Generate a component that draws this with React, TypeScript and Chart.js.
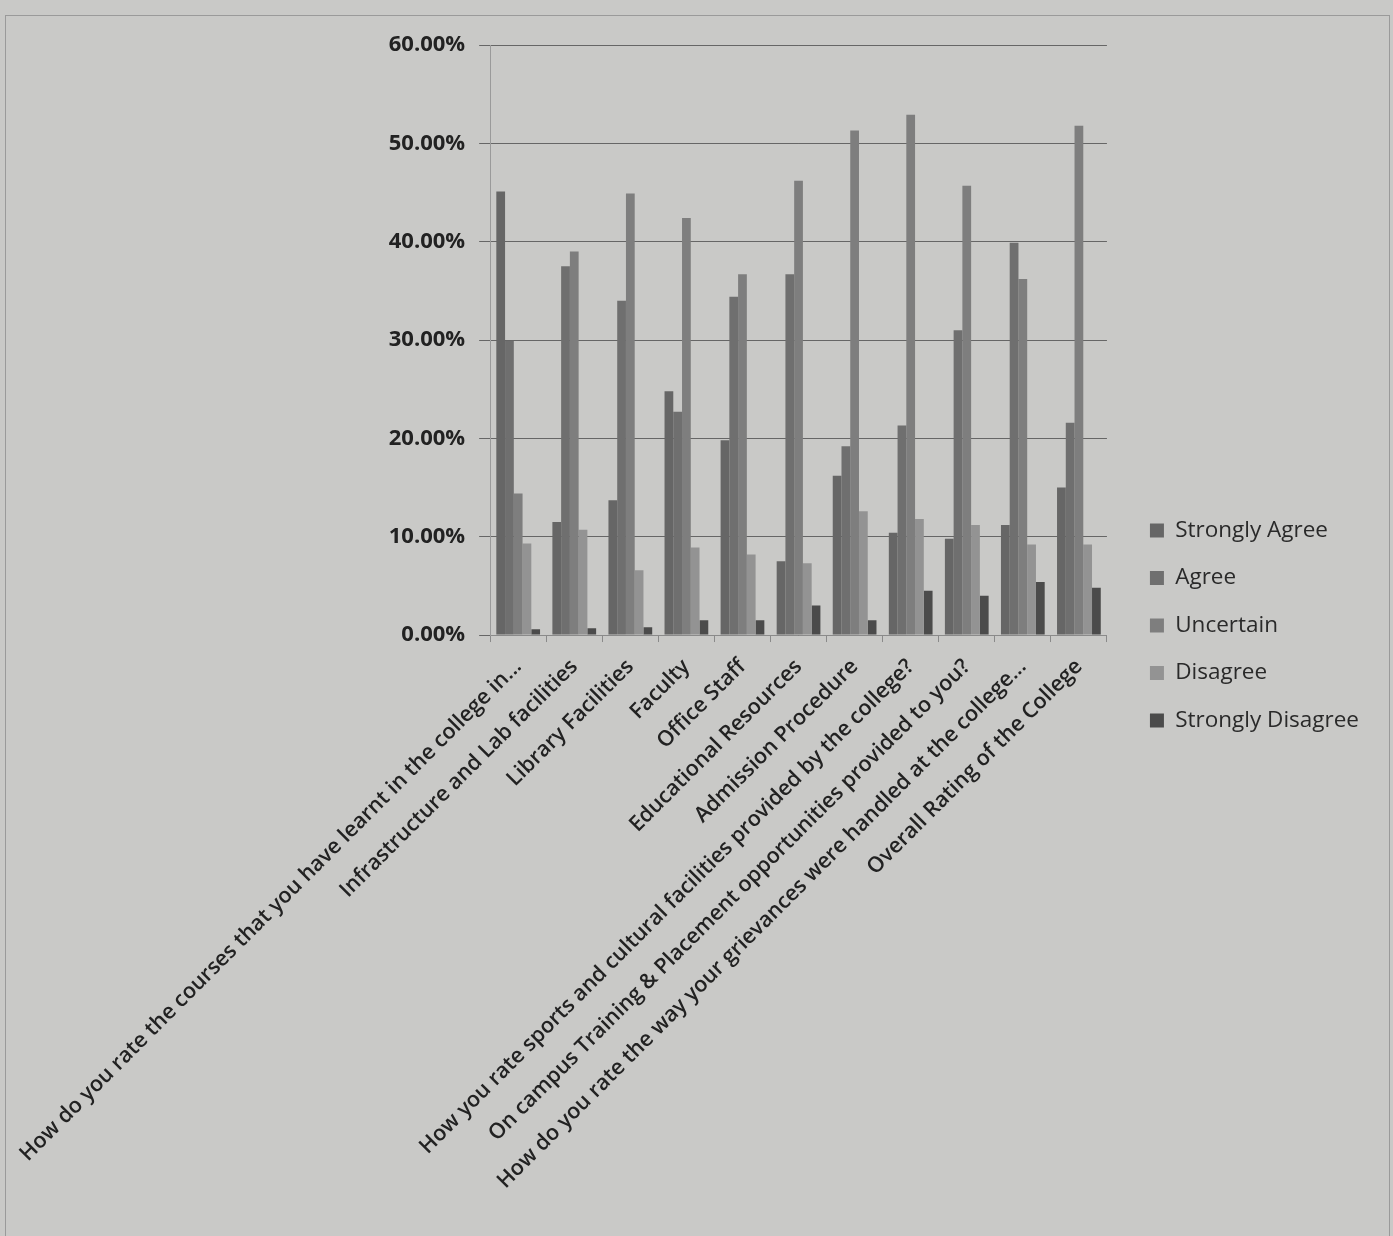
import React, { useEffect, useRef } from "react";
import { Chart, registerables } from "chart.js";

Chart.register(...registerables);

const categories = [
  "How do you rate the courses that you have learnt in the college in...",
  "Infrastructure and Lab facilities",
  "Library Facilities",
  "Faculty",
  "Office Staff",
  "Educational Resources",
  "Admission Procedure",
  "How you rate sports and cultural facilities provided by the college?",
  "On campus Training & Placement opportunities provided to you?",
  "How do you rate the way your grievances were handled at the college...",
  "Overall Rating of the College",
];

const stronglyAgree = [45.1, 11.5, 13.7, 24.8, 19.8, 7.5, 16.2, 10.4, 9.8, 11.2, 15.0];
const agree = [29.9, 37.5, 34.0, 22.7, 34.4, 36.7, 19.2, 21.3, 31.0, 39.9, 21.6];
const uncertain = [14.4, 39.0, 44.9, 42.4, 36.7, 46.2, 51.3, 52.9, 45.7, 36.2, 51.8];
const disagree = [9.3, 10.7, 6.6, 8.9, 8.2, 7.3, 12.6, 11.8, 11.2, 9.2, 9.2];
const stronglyDisagree = [0.6, 0.7, 0.8, 1.5, 1.5, 3.0, 1.5, 4.5, 4.0, 5.4, 4.8];

const seriesNames = ["Strongly Agree", "Agree", "Uncertain", "Disagree", "Strongly Disagree"];
const seriesColors = ["#666666", "#6f6f6f", "#7e7e7e", "#939393", "#4b4b4b"];
const yTicks = [0, 10, 20, 30, 40, 50, 60];

const LEGEND_GAP = 18;

export default function App() {
  const ref = useRef<HTMLCanvasElement | null>(null);

  useEffect(() => {
    if (!ref.current) return;
    const series = [stronglyAgree, agree, uncertain, disagree, stronglyDisagree];
    const chart = new Chart(ref.current, {
      type: "bar",
      data: {
        labels: categories,
        datasets: series.map((d, i) => ({
          label: seriesNames[i],
          data: d,
          backgroundColor: seriesColors[i],
          borderWidth: 0,
          categoryPercentage: 0.78,
          barPercentage: 1.0,
        })),
      },
      options: {
        animation: false,
        responsive: false,
        maintainAspectRatio: false,
        layout: { padding: { top: 29, right: 20, left: 12, bottom: 30 } },
        plugins: {
          tooltip: { enabled: false },
          legend: {
            position: "right",
            labels: {
              boxWidth: 14,
              boxHeight: 14,
              padding: 25,
              color: "#2a2a2a",
              font: { family: "Open Sans", size: 22.5 },
            },
          },
        },
        scales: {
          x: {
            ticks: {
              autoSkip: false,
              maxRotation: 45,
              minRotation: 45,
              color: "#222",
              padding: 12,
              font: { family: "Open Sans", size: 21.5, weight: 600 },
            },
            grid: {
              drawOnChartArea: false,
              drawTicks: true,
              tickLength: 7,
              color: "#8a8a8a",
            },
            border: { color: "#8a8a8a" },
          },
          y: {
            min: 0,
            max: 60,
            afterBuildTicks: (axis: any) => {
              axis.ticks = yTicks.map((v) => ({ value: v }));
            },
            ticks: {
              color: "#222",
              padding: 14,
              font: { family: "Open Sans", size: 22, weight: 700 },
              callback: (v: any) => Number(v).toFixed(2) + "%",
            },
            grid: { color: "#666666", lineWidth: 1, tickLength: 11 },
            border: { color: "#9a9a9a" },
          },
        },
      },
    });

    const lg: any = (chart as any).legend;
    if (lg) {
      const fit0 = lg.fit.bind(lg);
      lg.fit = () => {
        fit0();
        lg.width += LEGEND_GAP;
      };
      const draw0 = lg.draw.bind(lg);
      lg.draw = (...args: any[]) => {
        const ctx = chart.ctx;
        ctx.save();
        ctx.translate(LEGEND_GAP, 0);
        draw0(...args);
        ctx.restore();
      };
      chart.update();
    }
    return () => chart.destroy();
  }, []);

  return (
    <div style={{ position: "fixed", inset: 0, background: "#c9c9c7" }}>
      <div
        style={{
          position: "absolute",
          left: 5,
          top: 15,
          width: 1385,
          height: 1240,
          border: "1px solid #9a9a9a",
          boxSizing: "border-box",
        }}
      >
        <canvas ref={ref} width={1383} height={1220} style={{ display: "block" }} />
      </div>
    </div>
  );
}
